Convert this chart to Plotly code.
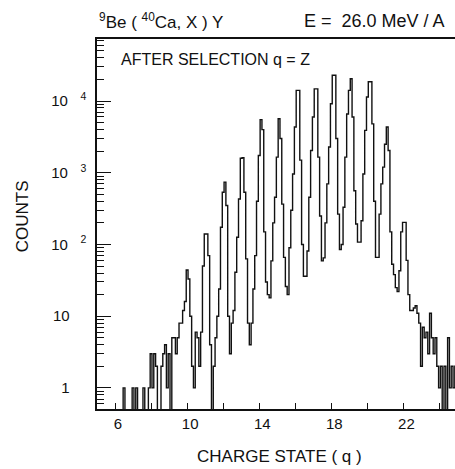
import numpy as np
import plotly.graph_objects as go

# Counts per 0.1-wide charge-state bin; one list per unit of q (bins centred at q.0 ... q.9)
counts_q05 = [0, 0, 0, 0, 0, 0, 0, 0, 0, 0]
counts_q06 = [0, 0, 0, 0, 0, 1, 0, 0, 0, 0]
counts_q07 = [1, 0, 1, 0, 0, 0, 1, 0, 0, 1]
counts_q08 = [3, 1, 3, 2, 0, 0, 2, 3, 4, 1]
counts_q09 = [3, 0, 5, 5, 3, 5, 8, 8, 12, 16]
counts_q10 = [44, 33, 10, 2, 1, 6, 5, 2, 6, 50]
counts_q11 = [140, 140, 70, 4, 0, 2, 5, 10, 24, 174]
counts_q12 = [535, 740, 350, 10, 3, 8, 12, 41, 126, 430]
counts_q13 = [1590, 1620, 535, 63, 8, 4, 8, 24, 70, 400]
counts_q14 = [1740, 5500, 4000, 150, 30, 20, 18, 59, 200, 455]
counts_q15 = [1650, 5650, 3000, 365, 66, 26, 20, 90, 300, 960]
counts_q16 = [4350, 14100, 14100, 1500, 100, 36, 36, 81, 455, 2040]
counts_q17 = [6000, 14800, 14800, 1650, 250, 59, 65, 200, 700, 2290]
counts_q18 = [9150, 22900, 22900, 3000, 265, 85, 100, 330, 1650, 6600]
counts_q19 = [14100, 20500, 6000, 560, 193, 108, 108, 214, 960, 3900]
counts_q20 = [11400, 18600, 18600, 4800, 400, 66, 66, 265, 700, 1200]
counts_q21 = [2500, 4350, 2040, 150, 53, 38, 25, 22, 43, 150]
counts_q22 = [203, 203, 60, 20, 12, 12, 13, 14, 11, 8]
counts_q23 = [2, 7, 5, 6, 3, 11, 5, 3, 5, 2]
counts_q24 = [1, 2, 0, 2, 0, 5, 1, 2, 1, 2]

first_bin_centre = 5.0
bin_width = 0.1

x_tick_vals = [6, 8, 10, 12, 14, 16, 18, 20, 22, 24]
x_tick_text = ["6", "", "10", "", "14", "", "18", "", "22", ""]
y_tick_vals = [1, 10, 100, 1000, 10000]
y_tick_exps = ["", "", "2", "3", "4"]
y_minor_vals = [m * 10 ** d for d in range(-1, 5) for m in range(2, 10)]

counts = np.array(
    counts_q05 + counts_q06 + counts_q07 + counts_q08 + counts_q09 + counts_q10
    + counts_q11 + counts_q12 + counts_q13 + counts_q14 + counts_q15 + counts_q16
    + counts_q17 + counts_q18 + counts_q19 + counts_q20 + counts_q21 + counts_q22
    + counts_q23 + counts_q24, dtype=float)

edges = first_bin_centre - bin_width / 2 + bin_width * np.arange(len(counts) + 1)
# empty bins drop below the log axis floor (drawn down to the axis)
y_disp = np.where(counts > 0, counts, 0.1)
y_step = np.append(y_disp, y_disp[-1])

NB = "\u00a0"
y_tick_text = []
for v, e in zip(y_tick_vals, y_tick_exps):
    if e:
        y_tick_text.append("10" + NB * 3 + "<sup>" + e + "</sup>")
    else:
        y_tick_text.append(str(v) + NB * 4)

FONT = "Liberation Sans, Arial, Helvetica, sans-serif"
INK = "#111111"

fig = go.Figure()
fig.add_trace(go.Scatter(
    x=edges, y=y_step, mode="lines", line=dict(shape="hv", color=INK, width=1.4),
    hoverinfo="skip", showlegend=False))

fig.update_layout(
    width=455, height=469,
    margin=dict(l=97, r=0, t=39, b=60),
    paper_bgcolor="white", plot_bgcolor="white",
    font=dict(family=FONT, color=INK, size=15),
    showlegend=False,
)

fig.update_xaxes(
    range=[5.0, 24.86], showgrid=False, zeroline=False,
    showline=True, linecolor=INK, linewidth=1.5, mirror=True,
    tickmode="array", tickvals=x_tick_vals, ticktext=x_tick_text,
    ticks="inside", ticklen=6, tickwidth=1, tickcolor=INK,
    tickfont=dict(size=15, family=FONT, color=INK),
    ticklabelshift=3,
)

fig.update_yaxes(
    type="log", range=[-0.294, 4.865], showgrid=False, zeroline=False,
    showline=True, linecolor=INK, linewidth=1.5,
    tickmode="array", tickvals=y_tick_vals, ticktext=y_tick_text,
    ticks="inside", ticklen=14, tickwidth=1, tickcolor=INK,
    tickfont=dict(size=15, family=FONT, color=INK),
    ticklabelstandoff=6,
    minor=dict(tickmode="array", tickvals=y_minor_vals, ticks="inside",
               ticklen=7, tickwidth=1, tickcolor=INK, showgrid=False),
)

ann_font = dict(family=FONT, color=INK, size=16)
fig.add_annotation(text="<sup>9</sup>Be ( <sup>40</sup>Ca, X ) Y", xref="paper", yref="paper",
                   x=0.0, y=1.0486, xanchor="left", yanchor="middle", showarrow=False,
                   font=dict(family=FONT, color=INK, size=17))
fig.add_annotation(text="E =" + NB + NB + "26.0 MeV / A", xref="paper", yref="paper",
                   x=0.5718, y=1.0486, xanchor="left", yanchor="middle", showarrow=False,
                   font=dict(family=FONT, color=INK, size=18))
fig.add_annotation(text="AFTER SELECTION q = Z", xref="paper", yref="paper",
                   x=0.0615, y=0.9446, xanchor="left", yanchor="middle", showarrow=False,
                   font=ann_font)
fig.add_annotation(text="COUNTS", xref="paper", yref="paper", textangle=-90,
                   x=-0.208, y=0.5197, xanchor="center", yanchor="middle", showarrow=False,
                   font=dict(family=FONT, color=INK, size=17))
fig.add_annotation(text="CHARGE STATE ( q )", xref="paper", yref="paper",
                   x=0.511, y=-0.1297, xanchor="center", yanchor="middle", showarrow=False,
                   font=dict(family=FONT, color=INK, size=17))

fig.write_html("out.html", config={"displayModeBar": False},
               post_script="document.body.style.margin='0';document.body.style.overflow='hidden';")
